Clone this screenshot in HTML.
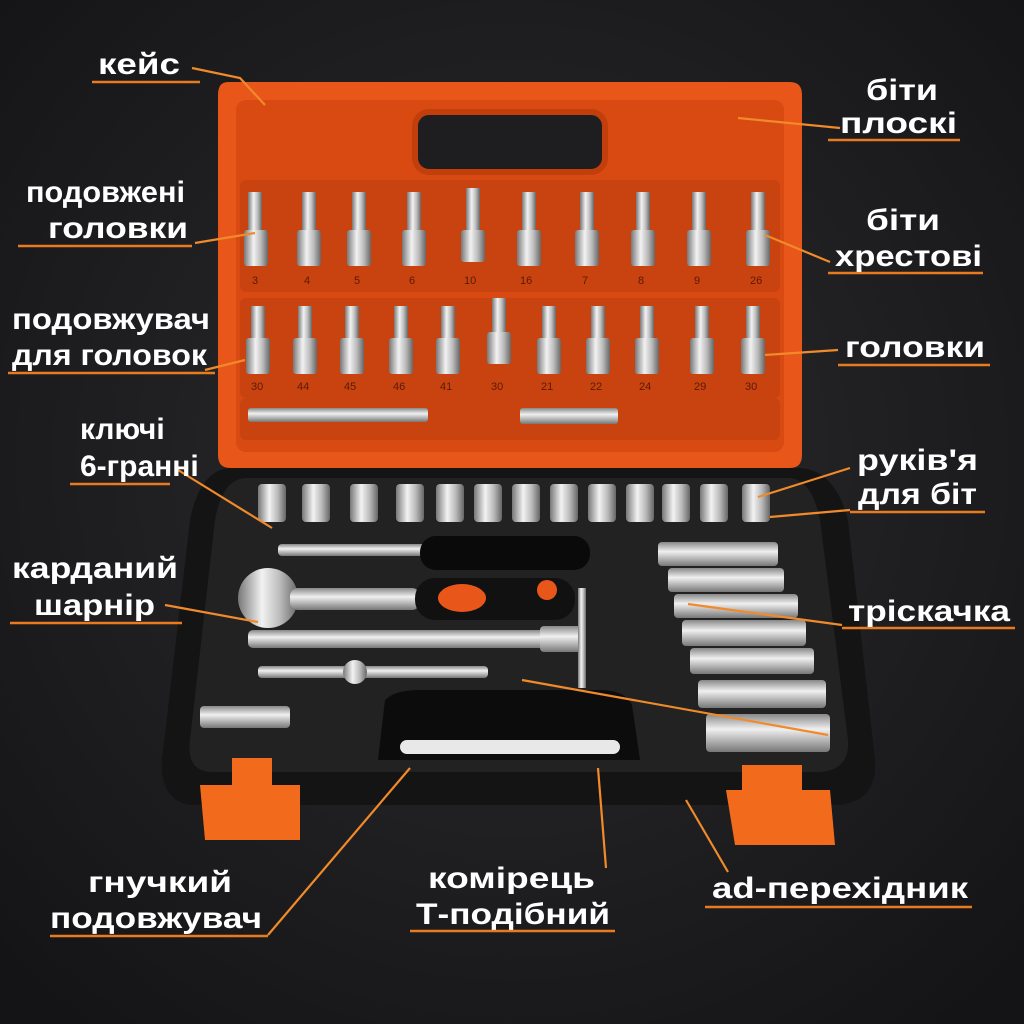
<!DOCTYPE html>
<html><head><meta charset="utf-8"><style>
html,body{margin:0;padding:0;background:#1e1e20;}
svg{display:block}
text{font-family:"Liberation Sans","DejaVu Sans",sans-serif;font-weight:bold;fill:#fff;font-size:30px}
.lb text{font-size:30px;font-weight:bold}
</style></head><body>
<svg width="1024" height="1024" viewBox="0 0 1024 1024" xmlns="http://www.w3.org/2000/svg">
<defs>
<radialGradient id="bg" cx="50%" cy="45%" r="70%"><stop offset="0" stop-color="#2c2c2e"/><stop offset="1" stop-color="#141416"/></radialGradient>
<linearGradient id="met" x1="0" x2="1"><stop offset="0" stop-color="#777"/><stop offset="0.4" stop-color="#f2f2f2"/><stop offset="0.7" stop-color="#bbb"/><stop offset="1" stop-color="#666"/></linearGradient>
<linearGradient id="metv" x1="0" y1="0" x2="0" y2="1"><stop offset="0" stop-color="#888"/><stop offset="0.4" stop-color="#f0f0f0"/><stop offset="1" stop-color="#777"/></linearGradient>
</defs>
<rect width="1024" height="1024" fill="url(#bg)"/>

<path d="M228 82 H790 Q802 82 802 95 V455 Q802 468 790 468 H230 Q218 468 218 455 V95 Q218 82 228 82Z" fill="#e8561a"/>
<rect x="236" y="100" width="548" height="352" rx="10" fill="#d94a12"/>
<rect x="415" y="112" width="190" height="60" rx="14" fill="#1e1e20" stroke="#c23f0c" stroke-width="6"/>
<rect x="240" y="180" width="540" height="112" rx="6" fill="#c94310"/>
<rect x="240" y="298" width="540" height="100" rx="6" fill="#c94310"/>
<rect x="240" y="398" width="540" height="42" rx="6" fill="#c94310"/>
<g fill="url(#met)">
<rect x="248" y="192" width="14" height="40"/><rect x="244" y="230" width="24" height="36" rx="3"/>
<rect x="302" y="192" width="14" height="40"/><rect x="297" y="230" width="24" height="36" rx="3"/>
<rect x="352" y="192" width="14" height="40"/><rect x="347" y="230" width="24" height="36" rx="3"/>
<rect x="407" y="192" width="14" height="40"/><rect x="402" y="230" width="24" height="36" rx="3"/>
<rect x="466" y="188" width="14" height="44"/><rect x="461" y="230" width="24" height="32" rx="3"/>
<rect x="522" y="192" width="14" height="40"/><rect x="517" y="230" width="24" height="36" rx="3"/>
<rect x="580" y="192" width="14" height="40"/><rect x="575" y="230" width="24" height="36" rx="3"/>
<rect x="636" y="192" width="14" height="40"/><rect x="631" y="230" width="24" height="36" rx="3"/>
<rect x="692" y="192" width="14" height="40"/><rect x="687" y="230" width="24" height="36" rx="3"/>
<rect x="751" y="192" width="14" height="40"/><rect x="746" y="230" width="24" height="36" rx="3"/>
<rect x="251" y="306" width="14" height="34"/><rect x="246" y="338" width="24" height="36" rx="3"/>
<rect x="298" y="306" width="14" height="34"/><rect x="293" y="338" width="24" height="36" rx="3"/>
<rect x="345" y="306" width="14" height="34"/><rect x="340" y="338" width="24" height="36" rx="3"/>
<rect x="394" y="306" width="14" height="34"/><rect x="389" y="338" width="24" height="36" rx="3"/>
<rect x="441" y="306" width="14" height="34"/><rect x="436" y="338" width="24" height="36" rx="3"/>
<rect x="492" y="298" width="14" height="36"/><rect x="487" y="332" width="24" height="32" rx="3"/>
<rect x="542" y="306" width="14" height="34"/><rect x="537" y="338" width="24" height="36" rx="3"/>
<rect x="591" y="306" width="14" height="34"/><rect x="586" y="338" width="24" height="36" rx="3"/>
<rect x="640" y="306" width="14" height="34"/><rect x="635" y="338" width="24" height="36" rx="3"/>
<rect x="695" y="306" width="14" height="34"/><rect x="690" y="338" width="24" height="36" rx="3"/>
<rect x="746" y="306" width="14" height="34"/><rect x="741" y="338" width="24" height="36" rx="3"/>
<rect x="248" y="408" width="180" height="14" rx="3" fill="url(#metv)"/>
<rect x="520" y="408" width="98" height="16" rx="3" fill="url(#metv)"/>
</g>
<g>
<text x="252" y="284" style="font-size:11px;font-weight:normal;fill:#5a1a04">3</text><text x="304" y="284" style="font-size:11px;font-weight:normal;fill:#5a1a04">4</text><text x="354" y="284" style="font-size:11px;font-weight:normal;fill:#5a1a04">5</text><text x="409" y="284" style="font-size:11px;font-weight:normal;fill:#5a1a04">6</text><text x="464" y="284" style="font-size:11px;font-weight:normal;fill:#5a1a04">10</text><text x="520" y="284" style="font-size:11px;font-weight:normal;fill:#5a1a04">16</text><text x="582" y="284" style="font-size:11px;font-weight:normal;fill:#5a1a04">7</text><text x="638" y="284" style="font-size:11px;font-weight:normal;fill:#5a1a04">8</text><text x="694" y="284" style="font-size:11px;font-weight:normal;fill:#5a1a04">9</text><text x="750" y="284" style="font-size:11px;font-weight:normal;fill:#5a1a04">26</text>
<text x="251" y="390" style="font-size:11px;font-weight:normal;fill:#5a1a04">30</text><text x="297" y="390" style="font-size:11px;font-weight:normal;fill:#5a1a04">44</text><text x="344" y="390" style="font-size:11px;font-weight:normal;fill:#5a1a04">45</text><text x="393" y="390" style="font-size:11px;font-weight:normal;fill:#5a1a04">46</text><text x="440" y="390" style="font-size:11px;font-weight:normal;fill:#5a1a04">41</text><text x="491" y="390" style="font-size:11px;font-weight:normal;fill:#5a1a04">30</text><text x="541" y="390" style="font-size:11px;font-weight:normal;fill:#5a1a04">21</text><text x="590" y="390" style="font-size:11px;font-weight:normal;fill:#5a1a04">22</text><text x="639" y="390" style="font-size:11px;font-weight:normal;fill:#5a1a04">24</text><text x="694" y="390" style="font-size:11px;font-weight:normal;fill:#5a1a04">29</text><text x="745" y="390" style="font-size:11px;font-weight:normal;fill:#5a1a04">30</text>
</g>

<path d="M230 468 H800 Q835 470 848 520 L875 760 Q878 800 840 805 H190 Q160 800 162 760 L190 520 Q200 470 230 468Z" fill="#141414"/>
<path d="M245 478 H790 Q812 480 820 520 L848 740 Q850 770 820 772 H210 Q186 770 190 740 L215 520 Q222 480 245 478Z" fill="#222"/>
<path d="M385 700 Q395 690 420 690 H600 Q625 690 632 705 L640 760 H378Z" fill="#0c0c0c"/>
<rect x="400" y="740" width="220" height="14" rx="7" fill="#e8e8e8"/>
<g fill="url(#met)">
<rect x="258" y="484" width="28" height="38" rx="4"/><rect x="302" y="484" width="28" height="38" rx="4"/><rect x="350" y="484" width="28" height="38" rx="4"/><rect x="396" y="484" width="28" height="38" rx="4"/><rect x="436" y="484" width="28" height="38" rx="4"/><rect x="474" y="484" width="28" height="38" rx="4"/><rect x="512" y="484" width="28" height="38" rx="4"/><rect x="550" y="484" width="28" height="38" rx="4"/><rect x="588" y="484" width="28" height="38" rx="4"/><rect x="626" y="484" width="28" height="38" rx="4"/><rect x="662" y="484" width="28" height="38" rx="4"/><rect x="700" y="484" width="28" height="38" rx="4"/><rect x="742" y="484" width="28" height="38" rx="4"/>
</g>
<g fill="url(#metv)">
<rect x="658" y="542" width="120" height="24" rx="4"/><rect x="668" y="568" width="116" height="24" rx="4"/><rect x="674" y="594" width="124" height="24" rx="4"/><rect x="682" y="620" width="124" height="26" rx="4"/><rect x="690" y="648" width="124" height="26" rx="4"/><rect x="698" y="680" width="128" height="28" rx="4"/><rect x="706" y="714" width="124" height="38" rx="4"/>
</g>
<rect x="278" y="544" width="150" height="12" rx="4" fill="url(#metv)"/>
<rect x="420" y="536" width="170" height="34" rx="16" fill="#0a0a0a"/>
<circle cx="268" cy="598" r="30" fill="url(#met)"/>
<rect x="290" y="588" width="130" height="22" rx="8" fill="url(#metv)"/>
<rect x="415" y="578" width="160" height="42" rx="20" fill="#111"/>
<ellipse cx="462" cy="598" rx="24" ry="14" fill="#e8561a"/>
<circle cx="547" cy="590" r="10" fill="#e8561a"/>
<rect x="248" y="630" width="300" height="18" rx="5" fill="url(#metv)"/>
<rect x="540" y="626" width="44" height="26" rx="4" fill="url(#metv)"/>
<rect x="578" y="588" width="8" height="100" fill="url(#met)"/>
<rect x="258" y="666" width="230" height="12" rx="4" fill="url(#metv)"/>
<circle cx="355" cy="672" r="12" fill="url(#met)"/>
<rect x="200" y="706" width="90" height="22" rx="4" fill="url(#metv)"/>
<path d="M200 785 H300 V840 H205Z" fill="#f26a1b"/><rect x="232" y="758" width="40" height="30" fill="#f26a1b"/>
<path d="M726 790 H830 L835 845 H735Z" fill="#f26a1b"/><rect x="742" y="765" width="60" height="30" fill="#f26a1b"/>

<g stroke="#f08a2a" stroke-width="2.2" fill="none">
<path d="M192 68 L240 78 L265 105"/>
<path d="M738 118 L840 128"/>
<path d="M195 243 L255 233"/>
<path d="M765 235 L830 262"/>
<path d="M205 370 L245 360"/>
<path d="M765 355 L838 350"/>
<path d="M178 470 L272 528"/>
<path d="M758 497 L850 468"/>
<path d="M770 517 L850 510"/>
<path d="M165 605 L258 622"/>
<path d="M688 604 L842 625"/>
<path d="M522 680 L828 735"/>
<path d="M268 935 L410 768"/>
<path d="M598 768 L606 868"/>
<path d="M686 800 L728 872"/>
</g>
<g stroke="#e87a20" stroke-width="2.5">
<line x1="92" y1="82" x2="200" y2="82"/>
<line x1="828" y1="140" x2="960" y2="140"/>
<line x1="18" y1="246" x2="192" y2="246"/>
<line x1="828" y1="273" x2="983" y2="273"/>
<line x1="8" y1="373" x2="215" y2="373"/>
<line x1="838" y1="365" x2="990" y2="365"/>
<line x1="70" y1="484" x2="170" y2="484"/>
<line x1="850" y1="512" x2="985" y2="512"/>
<line x1="10" y1="623" x2="182" y2="623"/>
<line x1="842" y1="628" x2="1015" y2="628"/>
<line x1="50" y1="936" x2="268" y2="936"/>
<line x1="410" y1="931" x2="615" y2="931"/>
<line x1="705" y1="907" x2="972" y2="907"/>
</g>
<g class="lb">
<text x="98" y="74" textLength="82" lengthAdjust="spacingAndGlyphs">кейс</text>
<text x="866" y="100" textLength="72" lengthAdjust="spacingAndGlyphs">біти</text><text x="840" y="133" textLength="117" lengthAdjust="spacingAndGlyphs">плоскі</text>
<text x="26" y="202" textLength="159" lengthAdjust="spacingAndGlyphs">подовжені</text><text x="48" y="238" textLength="140" lengthAdjust="spacingAndGlyphs">головки</text>
<text x="866" y="230" textLength="74" lengthAdjust="spacingAndGlyphs">біти</text><text x="835" y="266" textLength="147" lengthAdjust="spacingAndGlyphs">хрестові</text>
<text x="12" y="329" textLength="198" lengthAdjust="spacingAndGlyphs">подовжувач</text><text x="12" y="365" textLength="195" lengthAdjust="spacingAndGlyphs">для головок</text>
<text x="845" y="357" textLength="140" lengthAdjust="spacingAndGlyphs">головки</text>
<text x="80" y="439">ключі</text><text x="80" y="476">6-гранні</text>
<text x="857" y="470" textLength="121" lengthAdjust="spacingAndGlyphs">руків'я</text><text x="858" y="504" textLength="119" lengthAdjust="spacingAndGlyphs">для біт</text>
<text x="12" y="578" textLength="166" lengthAdjust="spacingAndGlyphs">карданий</text><text x="34" y="615" textLength="121" lengthAdjust="spacingAndGlyphs">шарнір</text>
<text x="848" y="621" textLength="162" lengthAdjust="spacingAndGlyphs">тріскачка</text>
<text x="88" y="892" textLength="144" lengthAdjust="spacingAndGlyphs">гнучкий</text><text x="50" y="928" textLength="212" lengthAdjust="spacingAndGlyphs">подовжувач</text>
<text x="428" y="888" textLength="167" lengthAdjust="spacingAndGlyphs">комірець</text><text x="416" y="924" textLength="194" lengthAdjust="spacingAndGlyphs">Т-подібний</text>
<text x="712" y="898" textLength="256" lengthAdjust="spacingAndGlyphs">ad-перехідник</text>
</g>
</svg>
</body></html>
